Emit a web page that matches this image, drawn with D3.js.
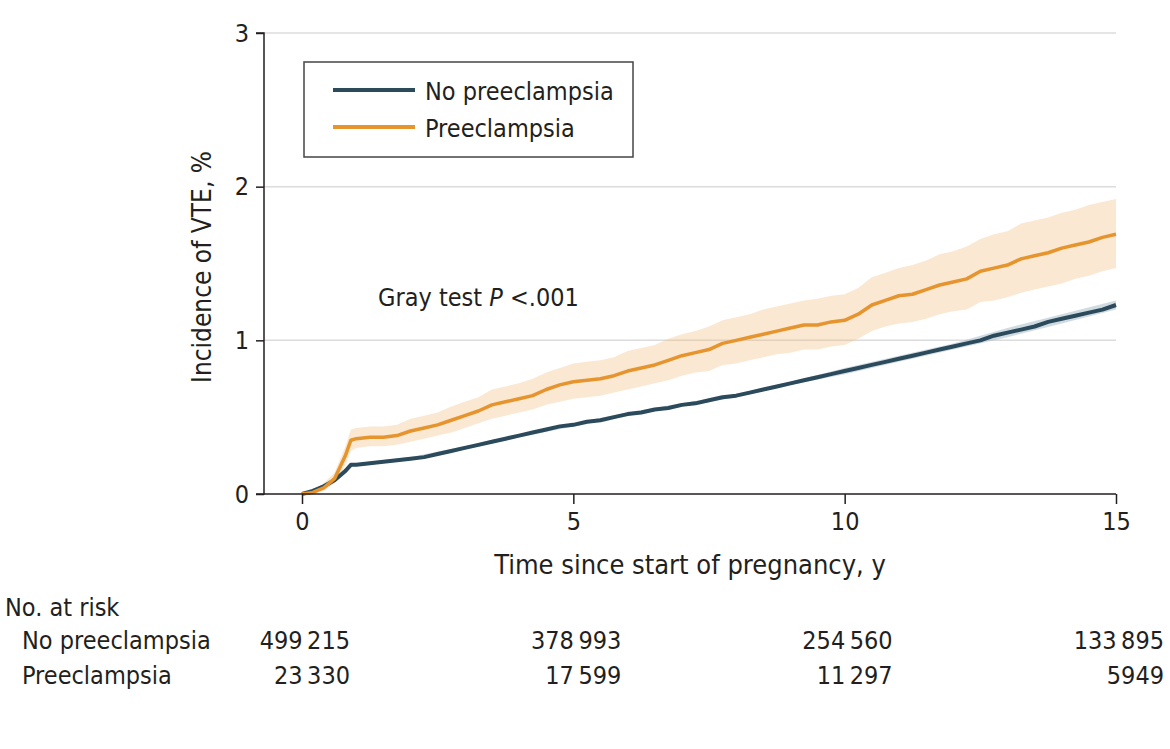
<!DOCTYPE html>
<html>
<head>
<meta charset="utf-8">
<script src="https://cdn.jsdelivr.net/npm/d3@7"></script>
<style>
  body { margin: 0; background: #fff; }
  svg text { font-family: "Liberation Sans Narrow", "DejaVu Sans Condensed", sans-serif; fill: #231f20; }
</style>
</head>
<body>
<div class="container"></div>
<script>
const WIDTH = 1170;
const HEIGHT = 749;

// time points (years) used by both estimate curves
var times = [0, 0.2, 0.4, 0.6, 0.8, 0.9, 1, 1.25, 1.5, 1.75, 2, 2.25, 2.5, 2.75, 3, 3.25, 3.5, 3.75,
  4, 4.25, 4.5, 4.75, 5, 5.25, 5.5, 5.75, 6, 6.25, 6.5, 6.75, 7, 7.25, 7.5, 7.75, 8, 8.25, 8.5, 8.75,
  9, 9.25, 9.5, 9.75, 10, 10.25, 10.5, 10.75, 11, 11.25, 11.5, 11.75, 12, 12.25, 12.5, 12.75,
  13, 13.25, 13.5, 13.75, 14, 14.25, 14.5, 14.75, 15];

var preeclampsia = [0, 0.01, 0.04, 0.10, 0.25, 0.35, 0.36, 0.37, 0.37, 0.38, 0.41, 0.43, 0.45, 0.48,
  0.51, 0.54, 0.58, 0.60, 0.62, 0.64, 0.68, 0.71, 0.73, 0.74, 0.75, 0.77, 0.80, 0.82, 0.84, 0.87,
  0.90, 0.92, 0.94, 0.98, 1.00, 1.02, 1.04, 1.06, 1.08, 1.10, 1.10, 1.12, 1.13, 1.17, 1.23, 1.26,
  1.29, 1.30, 1.33, 1.36, 1.38, 1.40, 1.45, 1.47, 1.49, 1.53, 1.55, 1.57, 1.60, 1.62, 1.64, 1.67, 1.69];

var preeclampsiaLower = [0, 0, 0.02, 0.07, 0.19, 0.28, 0.30, 0.31, 0.31, 0.32, 0.34, 0.36, 0.38, 0.40,
  0.43, 0.46, 0.49, 0.51, 0.53, 0.55, 0.58, 0.60, 0.62, 0.63, 0.64, 0.66, 0.68, 0.70, 0.72, 0.74,
  0.77, 0.79, 0.80, 0.84, 0.85, 0.87, 0.89, 0.91, 0.92, 0.94, 0.94, 0.96, 0.97, 1.01, 1.06, 1.09,
  1.11, 1.12, 1.14, 1.17, 1.19, 1.20, 1.25, 1.26, 1.28, 1.31, 1.33, 1.35, 1.37, 1.40, 1.42, 1.45, 1.47];

var preeclampsiaUpper = [0, 0.02, 0.07, 0.14, 0.31, 0.42, 0.43, 0.44, 0.44, 0.45, 0.49, 0.51, 0.53, 0.57,
  0.60, 0.63, 0.68, 0.70, 0.72, 0.75, 0.79, 0.82, 0.85, 0.86, 0.87, 0.89, 0.93, 0.95, 0.97, 1.01,
  1.04, 1.06, 1.09, 1.13, 1.15, 1.17, 1.20, 1.22, 1.24, 1.26, 1.27, 1.29, 1.30, 1.34, 1.41, 1.44,
  1.47, 1.49, 1.52, 1.56, 1.58, 1.61, 1.66, 1.69, 1.71, 1.76, 1.78, 1.80, 1.83, 1.85, 1.88, 1.90, 1.92];

var noPreeclampsia = [0, 0.02, 0.05, 0.09, 0.15, 0.19, 0.19, 0.20, 0.21, 0.22, 0.23, 0.24, 0.26, 0.28,
  0.30, 0.32, 0.34, 0.36, 0.38, 0.40, 0.42, 0.44, 0.45, 0.47, 0.48, 0.50, 0.52, 0.53, 0.55, 0.56,
  0.58, 0.59, 0.61, 0.63, 0.64, 0.66, 0.68, 0.70, 0.72, 0.74, 0.76, 0.78, 0.80, 0.82, 0.84, 0.86,
  0.88, 0.90, 0.92, 0.94, 0.96, 0.98, 1.00, 1.03, 1.05, 1.07, 1.09, 1.12, 1.14, 1.16, 1.18, 1.20, 1.23];

// coarser band for the no-preeclampsia group (it is very narrow)
var bandTimes = [0, 0.5, 0.9, 1, 2, 3, 4, 5, 6, 7, 8, 9, 10, 11, 12, 13, 14, 15];
var noPreeclampsiaLower = [0, 0.05, 0.18, 0.18, 0.22, 0.29, 0.37, 0.44, 0.51, 0.57, 0.63, 0.71, 0.78, 0.86, 0.94, 1.02, 1.11, 1.20];
var noPreeclampsiaUpper = [0, 0.08, 0.20, 0.20, 0.24, 0.31, 0.39, 0.46, 0.53, 0.59, 0.65, 0.73, 0.82, 0.90, 0.98, 1.08, 1.17, 1.26];

var xTicks = [0, 5, 10, 15];
var yTicks = [0, 1, 2, 3];
var groups = ['No preeclampsia', 'Preeclampsia'];
var riskNo = ['499\u2009215', '378\u2009993', '254\u2009560', '133\u2009895'];
var riskPre = ['23\u2009330', '17\u2009599', '11\u2009297', '5949'];

var BLUE = '#2b4a5b';
var ORANGE = '#e6942e';

var translate = function (x, y) {
  return 'translate(' + x + ',' + y + ')';
};

var zip = function (ts, ys) {
  return ts.map(function (t, i) { return {x: t, y: ys[i]}; });
};

var zipBand = function (ts, lo, hi) {
  return ts.map(function (t, i) { return {x: t, lo: lo[i], hi: hi[i]}; });
};

var createChart = function () {
  var svg = d3.select('.container').append('svg')
    .attr('width', WIDTH)
    .attr('height', HEIGHT);

  var xScale = d3.scaleLinear().domain([0, 15]).range([302, 1116]);
  var yScale = d3.scaleLinear().domain([0, 3]).range([494, 33]);
  var axisLeftX = 264;

  // gridlines
  svg.append('g').selectAll('line')
    .data(yTicks.slice(1))
    .enter().append('line')
    .attr('x1', axisLeftX).attr('x2', xScale(15))
    .attr('y1', function (d) { return yScale(d); })
    .attr('y2', function (d) { return yScale(d); })
    .attr('stroke', '#dcdcdc').attr('stroke-width', 1.5);

  // bands
  var bandArea = d3.area()
    .x(function (d) { return xScale(d.x); })
    .y0(function (d) { return yScale(d.lo); })
    .y1(function (d) { return yScale(d.hi); });
  svg.append('path')
    .attr('d', bandArea(zipBand(times, preeclampsiaLower, preeclampsiaUpper)))
    .attr('fill', '#f0b873').attr('fill-opacity', 0.32);
  svg.append('path')
    .attr('d', bandArea(zipBand(bandTimes, noPreeclampsiaLower, noPreeclampsiaUpper)))
    .attr('fill', '#9fb8c4').attr('fill-opacity', 0.5);

  // lines
  var line = d3.line()
    .x(function (d) { return xScale(d.x); })
    .y(function (d) { return yScale(d.y); });
  svg.append('path')
    .attr('d', line(zip(times, noPreeclampsia)))
    .attr('fill', 'none').attr('stroke', BLUE).attr('stroke-width', 4)
    .attr('stroke-linejoin', 'round');
  svg.append('path')
    .attr('d', line(zip(times, preeclampsia)))
    .attr('fill', 'none').attr('stroke', ORANGE).attr('stroke-width', 3.5)
    .attr('stroke-linejoin', 'round');

  // y axis
  var yAxis = d3.axisLeft(yScale).tickValues(yTicks).tickSize(8).tickPadding(7)
    .tickFormat(d3.format('d'));
  var gy = svg.append('g').attr('transform', translate(axisLeftX, 0)).call(yAxis);
  gy.select('.domain').attr('d', 'M-8,' + yScale(3) + 'H0V' + yScale(0) + 'H-8')
    .attr('stroke', '#231f20').attr('stroke-width', 1.5);
  gy.selectAll('line').attr('stroke', '#231f20').attr('stroke-width', 1.5);
  gy.selectAll('text').style('font-size', '25px');

  // x axis
  var xAxis = d3.axisBottom(xScale).tickValues(xTicks).tickSize(10).tickPadding(8);
  var gx = svg.append('g').attr('transform', translate(0, yScale(0))).call(xAxis);
  gx.select('.domain').attr('d', 'M' + axisLeftX + ',0H' + xScale(15))
    .attr('stroke', '#231f20').attr('stroke-width', 1.5);
  gx.selectAll('line').attr('stroke', '#231f20').attr('stroke-width', 1.5);
  gx.selectAll('text').style('font-size', '25px');

  // axis titles
  svg.append('text')
    .attr('x', 690).attr('y', 574)
    .attr('text-anchor', 'middle')
    .style('font-size', '27px')
    .text('Time since start of pregnancy, y');
  svg.append('text')
    .attr('transform', translate(211, 267) + ' rotate(-90)')
    .attr('text-anchor', 'middle')
    .style('font-size', '26px')
    .text('Incidence of VTE, %');

  // legend
  var lg = svg.append('g');
  lg.append('rect')
    .attr('x', 304).attr('y', 62).attr('width', 329).attr('height', 95)
    .attr('fill', '#fff').attr('stroke', '#444').attr('stroke-width', 1.5);
  var colors = [BLUE, ORANGE];
  groups.forEach(function (name, i) {
    var yy = 90 + i * 37;
    lg.append('line')
      .attr('x1', 333).attr('x2', 415).attr('y1', yy).attr('y2', yy)
      .attr('stroke', colors[i]).attr('stroke-width', 4);
    lg.append('text')
      .attr('x', 425).attr('y', yy + 10)
      .style('font-size', '25px')
      .text(name);
  });

  // test annotation
  var ann = svg.append('text')
    .attr('x', 378).attr('y', 306)
    .style('font-size', '25px');
  ann.append('tspan').text('Gray test ');
  ann.append('tspan').style('font-style', 'italic').text('P');
  ann.append('tspan').text(' <.001');

  // number at risk table
  svg.append('text').attr('x', 5).attr('y', 616).style('font-size', '25px').text('No. at risk');
  var rows = [riskNo, riskPre];
  groups.forEach(function (name, i) {
    var yy = 649 + i * 35;
    svg.append('text').attr('x', 22).attr('y', yy).style('font-size', '25px').text(name);
    svg.append('g').selectAll('text')
      .data(rows[i])
      .enter().append('text')
      .attr('x', function (d, j) { return xScale(xTicks[j]) + 48; })
      .attr('y', yy)
      .attr('text-anchor', 'end')
      .style('font-size', '25px')
      .text(function (d) { return d; });
  });
};

window.onload = createChart;
</script>
</body>
</html>
